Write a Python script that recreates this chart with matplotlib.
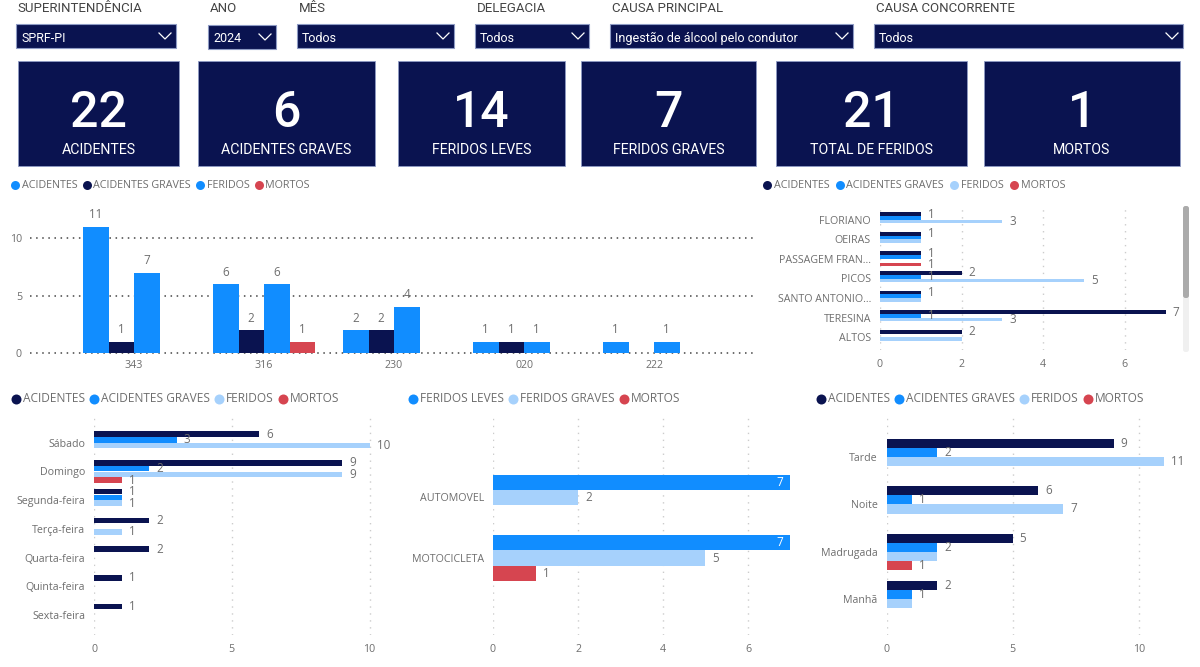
import matplotlib
matplotlib.use("Agg")
import matplotlib.pyplot as plt
from matplotlib.patches import Rectangle, FancyBboxPatch
import numpy as np

W, H = 1200, 667
NAVY = "#0A1350"
BLUE = "#118DFF"
LIGHT = "#A6D1FC"
RED = "#D64550"
GRAY = "#6E6E6E"
TICK_FS = 7.7
VALUE_FS = 8.4

# slicers
slicer_titles = ["SUPERINTENDÊNCIA", "ANO", "MÊS", "DELEGACIA", "CAUSA PRINCIPAL", "CAUSA CONCORRENTE"]
slicer_values = ["SPRF-PI", "2024", "Todos", "Todos", "Ingestão de álcool pelo condutor", "Todos"]

# cards
card_values = ["22", "6", "14", "7", "21", "1"]
card_labels = ["ACIDENTES", "ACIDENTES GRAVES", "FERIDOS LEVES", "FERIDOS GRAVES", "TOTAL DE FERIDOS", "MORTOS"]

# por rodovia
br_names = ["343", "316", "230", "020", "222"]
br_acidentes = [11, 6, 2, 1, 1]
br_graves = [1, 2, 2, 1, 0]
br_feridos = [7, 6, 4, 1, 1]
br_mortos = [0, 1, 0, 0, 0]

# por municipio
mun_names = ["FLORIANO", "OEIRAS", "PASSAGEM FRAN...", "PICOS", "SANTO ANTONIO...", "TERESINA", "ALTOS"]
mun_acidentes = [1, 1, 1, 2, 1, 7, 2]
mun_graves = [1, 1, 1, 1, 1, 1, 0]
mun_feridos = [3, 1, 0, 5, 1, 3, 2]
mun_mortos = [0, 0, 1, 0, 0, 0, 0]

# por dia da semana
dia_names = ["Sábado", "Domingo", "Segunda-feira", "Terça-feira", "Quarta-feira", "Quinta-feira", "Sexta-feira"]
dia_acidentes = [6, 9, 1, 2, 2, 1, 1]
dia_graves = [3, 2, 1, 0, 0, 0, 0]
dia_feridos = [10, 9, 1, 1, 0, 0, 0]
dia_mortos = [0, 1, 0, 0, 0, 0, 0]

# por tipo de veiculo
vei_names = ["AUTOMOVEL", "MOTOCICLETA"]
vei_leves = [7, 7]
vei_graves = [2, 5]
vei_mortos = [0, 1]

# por fase do dia
fase_names = ["Tarde", "Noite", "Madrugada", "Manhã"]
fase_acidentes = [9, 6, 5, 2]
fase_graves = [2, 1, 2, 1]
fase_feridos = [11, 7, 2, 1]
fase_mortos = [0, 0, 1, 0]

fig = plt.figure(figsize=(W / 100, H / 100), dpi=100, facecolor="white")
plt.rcParams["font.family"] = ["Open Sans", "DejaVu Sans"]

# overlay in pixel coordinates for cards, slicers and legends
bg = fig.add_axes([0, 0, 1, 1])
bg.set_xlim(0, W)
bg.set_ylim(H, 0)
bg.axis("off")


def pt(px):
    return px * 0.72


def px_axes(left, top, right, bottom):
    ax = fig.add_axes([left / W, 1 - bottom / H, (right - left) / W, (bottom - top) / H])
    ax.patch.set_alpha(0)
    for s in ax.spines.values():
        s.set_visible(False)
    ax.tick_params(length=0, colors=GRAY)
    return ax


def draw_slicer(title, value, box, title_y=8):
    x0, y0, x1, y1 = box
    bg.text(x0 + 1.5, title_y, title, family="Roboto", fontsize=9.5, color="#444444", va="center")
    bg.add_patch(Rectangle((x0, y0), x1 - x0, y1 - y0, fc=NAVY, ec="#8E9BC4", lw=0.8))
    bg.text(x0 + 5, (y0 + y1) / 2 + 2, value, family="Roboto", fontsize=9, color="white", va="center")
    cx = x1 - 11
    cy = (y0 + y1) / 2
    bg.plot([cx - 6, cx, cx + 6], [cy - 3, cy + 3, cy - 3], color="white", lw=0.9)


def draw_card(value, label, box):
    x0, y0, x1, y1 = box
    bg.add_patch(Rectangle((x0, y0), x1 - x0, y1 - y0, fc=NAVY, ec="#8E9BC4", lw=0.6))
    cx = (x0 + x1) / 2
    bg.text(cx, 113, value, family="Roboto", fontsize=36, weight="medium", color="white", ha="center", va="center")
    bg.text(cx, 150.5, label, family="Roboto", fontsize=10.2, color="white", ha="center", va="center")


def draw_legend(names, colors, x, y, size, r, gap):
    r_ = fig.canvas.get_renderer()
    for name, c in zip(names, colors):
        bg.plot([x + r], [y], "o", ms=r * 2 * 0.72, color=c, mec="none")
        t = bg.text(x + 2 * r + 2, y, name, fontsize=size, color=GRAY, va="center")
        x = t.get_window_extent(r_).x1 + gap


def hbar_chart(box, names, series, colors, px_unit, cat0, cat_step, bar_px, ticks):
    left, top, right, bottom = box
    ax = px_axes(left, top, right, bottom)
    ax.set_xlim(0, (right - left) / px_unit)
    ax.set_ylim((bottom - cat0) / cat_step, (top - cat0) / cat_step)
    ax.set_axisbelow(True)
    ax.grid(axis="x", color="#CCCCCC", ls=(0, (1, 4)), lw=1)
    pos = np.arange(len(names))
    n = len(series)
    h = bar_px / cat_step
    for j, (vals, c) in enumerate(zip(series, colors)):
        ax.barh(pos + (j - (n - 1) / 2) * h, vals, height=h, color=c, lw=0)
    # power bi drops a label when it would collide with the one above it
    for i in pos:
        placed = []
        for j, vals in enumerate(series):
            v = vals[i]
            if v == 0:
                continue
            y_px = j * bar_px
            if any(pv == v and y_px - py < 10 for pv, py in placed):
                continue
            placed.append((v, y_px))
            y = i + (j - (n - 1) / 2) * h
            if v * px_unit + 16 > right - left:
                ax.annotate(str(v), (v, y), xytext=(pt(-7), 0), textcoords="offset points",
                            ha="right", va="center", fontsize=VALUE_FS, color="white")
            else:
                ax.annotate(str(v), (v, y), xytext=(pt(7), 0), textcoords="offset points",
                            ha="left", va="center", fontsize=VALUE_FS, color=GRAY)
    ax.set_yticks(pos)
    ax.set_yticklabels(names, fontsize=TICK_FS, color=GRAY)
    ax.set_xticks(ticks)
    ax.set_xticklabels([str(t) for t in ticks], fontsize=TICK_FS, color=GRAY)
    ax.tick_params(axis="y", pad=pt(9))
    ax.tick_params(axis="x", pad=pt(9))
    return ax


# slicers
slicer_boxes = [(16, 24, 176, 48), (208, 25, 276, 49), (297, 24, 454, 48),
                (475, 24, 589, 48), (610, 24, 853, 48), (874, 24, 1183, 48)]
title_ys = [8, 9, 8, 8, 8, 8]
for title, value, box, ty in zip(slicer_titles, slicer_values, slicer_boxes, title_ys):
    draw_slicer(title, value, box, ty)

# cards
card_boxes = [(18, 61, 179, 166), (198, 61, 375, 166), (398, 61, 565, 166),
              (581, 61, 756, 166), (776, 61, 967, 166), (984, 61, 1180, 166)]
for value, label, box in zip(card_values, card_labels, card_boxes):
    draw_card(value, label, box)

# legends
names4 = ["ACIDENTES", "ACIDENTES GRAVES", "FERIDOS", "MORTOS"]
draw_legend(names4, [BLUE, NAVY, BLUE, RED], 10.5, 185, 7.75, 4.5, 5)
draw_legend(names4, [NAVY, BLUE, LIGHT, RED], 762.5, 185, 7.75, 4.5, 6)
draw_legend(names4, [NAVY, BLUE, LIGHT, RED], 11, 399, 8.6, 5, 4)
draw_legend(["FERIDOS LEVES", "FERIDOS GRAVES", "MORTOS"], [BLUE, LIGHT, RED], 408, 399, 8.6, 5, 4)
draw_legend(names4, [NAVY, BLUE, LIGHT, RED], 816, 399, 8.6, 5, 4)

# column chart, scale: 0 at y=353, 10 at y=238, groups 130 px apart
ax1 = px_axes(30, 205, 757, 353)
ax1.set_xlim((30 - 134) / 130, (757 - 134) / 130)
ax1.set_ylim(0, (353 - 205) / 11.5)
ax1.set_axisbelow(True)
ax1.grid(axis="y", color="#444444", ls=(0, (1, 3)), lw=1.1)
for gl in ax1.get_ygridlines():
    gl.set_clip_on(False)
bw = 25.5 / 130
x = np.arange(len(br_names))
for j, (vals, c) in enumerate(zip([br_acidentes, br_graves, br_feridos, br_mortos], [BLUE, NAVY, BLUE, RED])):
    ax1.bar(x + (j - 1.5) * bw, vals, width=bw, color=c, lw=0)
    for xi, v in zip(x, vals):
        if v > 0:
            ax1.annotate(str(v), (xi + (j - 1.5) * bw, v), xytext=(0, pt(12)), textcoords="offset points",
                         ha="center", va="center", fontsize=VALUE_FS, color=GRAY)
ax1.set_xticks(x)
ax1.set_xticklabels(br_names, fontsize=TICK_FS, color=GRAY)
ax1.set_yticks([0, 5, 10])
ax1.set_yticklabels(["0", "5", "10"], fontsize=TICK_FS, color=GRAY)
ax1.tick_params(axis="x", pad=pt(7))
ax1.tick_params(axis="y", pad=pt(8))

# bar charts
c4 = [NAVY, BLUE, LIGHT, RED]
hbar_chart((880, 205, 1182, 350), mun_names, [mun_acidentes, mun_graves, mun_feridos, mun_mortos], c4,
           40.8, 219.7, 19.6, 3.75, [0, 2, 4, 6])
hbar_chart((94, 418, 392, 635), dia_names, [dia_acidentes, dia_graves, dia_feridos, dia_mortos], c4,
           27.55, 471.5 - 28.7, 28.7, 5.7, [0, 5, 10])
hbar_chart((493, 418, 790.5, 635), vei_names, [vei_leves, vei_graves, vei_mortos], [BLUE, LIGHT, RED],
           42.5, 497.5, 60.5, 15.3, [0, 2, 4, 6])
hbar_chart((886.7, 418, 1190, 635), fase_names, [fase_acidentes, fase_graves, fase_feridos, fase_mortos], c4,
           25.2, 457, 47.4, 9.1, [0, 5, 10])

# scrollbar of the municipio list
bg.add_patch(FancyBboxPatch((1183, 206), 6, 146, boxstyle="round,pad=0,rounding_size=2.5", fc="#F0F0F0", ec="none"))
bg.add_patch(FancyBboxPatch((1183, 206), 6, 92, boxstyle="round,pad=0,rounding_size=2.5", fc="#ABABAB", ec="none"))

fig.savefig("out.png", dpi=100)
